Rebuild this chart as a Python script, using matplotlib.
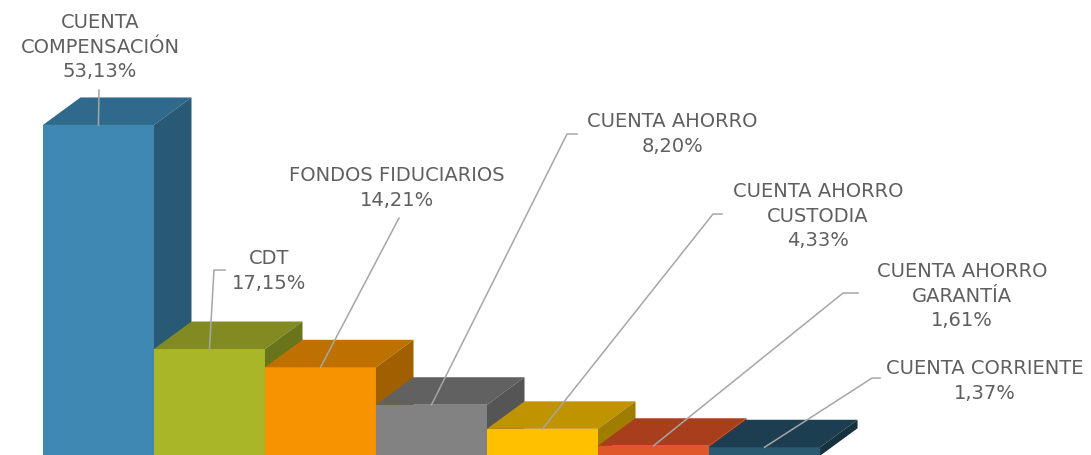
import numpy as np
from matplotlib import pyplot as plt
from matplotlib.patches import Polygon

# datos del grafico
categorias = ['CUENTA\nCOMPENSACIÓN', 'CDT', 'FONDOS FIDUCIARIOS', 'CUENTA AHORRO',
              'CUENTA AHORRO\nCUSTODIA', 'CUENTA AHORRO\nGARANTÍA', 'CUENTA CORRIENTE']
valores = [53.13, 17.15, 14.21, 8.20, 4.33, 1.61, 1.37]
etiquetas = ['53,13%', '17,15%', '14,21%', '8,20%', '4,33%', '1,61%', '1,37%']

# colores: frente, techo, lado
c_frente = ['#3F88B3', '#A9B628', '#F79200', '#828282', '#FFC000', '#E0582A', '#2A5A72']
c_techo = ['#2F6A8C', '#828B21', '#BF7100', '#616161', '#C09400', '#A83E1C', '#1D3D50']
c_lado = ['#285A75', '#6A741B', '#A06000', '#555555', '#A07C00', '#8C3418', '#17323F']

W, H = 1091, 455
fig = plt.figure(figsize=(W / 100, H / 100), dpi=100)
ax = fig.add_axes([0, 0, 1, 1])
ax.set_xlim(-0.387, 9.441)
ax.set_ylim(0.13, 73.2)
ax.axis('off')

dx, dy = 0.338, 4.42  # profundidad del efecto 3d

def px(x, y):
    # pixel de la imagen -> coordenadas de datos
    return (x - 43) / 111.0, 73.2 - y / 6.226

for i, v in enumerate(valores):
    z = 2 + i
    ax.bar(i, v, width=1, align='edge', color=c_frente[i], zorder=z, linewidth=0)
    techo = [(i, v), (i + dx, v + dy), (i + 1 + dx, v + dy), (i + 1, v)]
    lado = [(i + 1, 0), (i + 1, v), (i + 1 + dx, v + dy), (i + 1 + dx, dy)]
    ax.add_patch(Polygon(techo, closed=True, color=c_techo[i], zorder=z, lw=0))
    ax.add_patch(Polygon(lado, closed=True, color=c_lado[i], zorder=z, lw=0))

# posicion de las etiquetas (pixeles) y quiebres de las lineas guia
pos_texto = [(100, 47), (269, 271), (397, 188), (672, 134), (818, 216), (962, 296), (985, 381)]
guias = [[(99, 90)],
         [(214, 270), (225, 270)],
         [(399, 218)],
         [(567, 134), (577, 134)],
         [(713, 214), (722, 214)],
         [(843, 293), (858, 293)],
         [(872, 378), (880, 378)]]

for i, v in enumerate(valores):
    pts = [(i + 0.5, v)] + [px(*p) for p in guias[i]]
    xs, ys = zip(*pts)
    ax.plot(xs, ys, color='#A6A6A6', lw=1.1, zorder=20)
    tx, ty = px(*pos_texto[i])
    ax.text(tx, ty, categorias[i] + '\n' + etiquetas[i], ha='center', va='center',
            fontsize=14, color='#5f5f5f', linespacing=1.35, zorder=21)

fig.savefig('out.png', dpi=100)
